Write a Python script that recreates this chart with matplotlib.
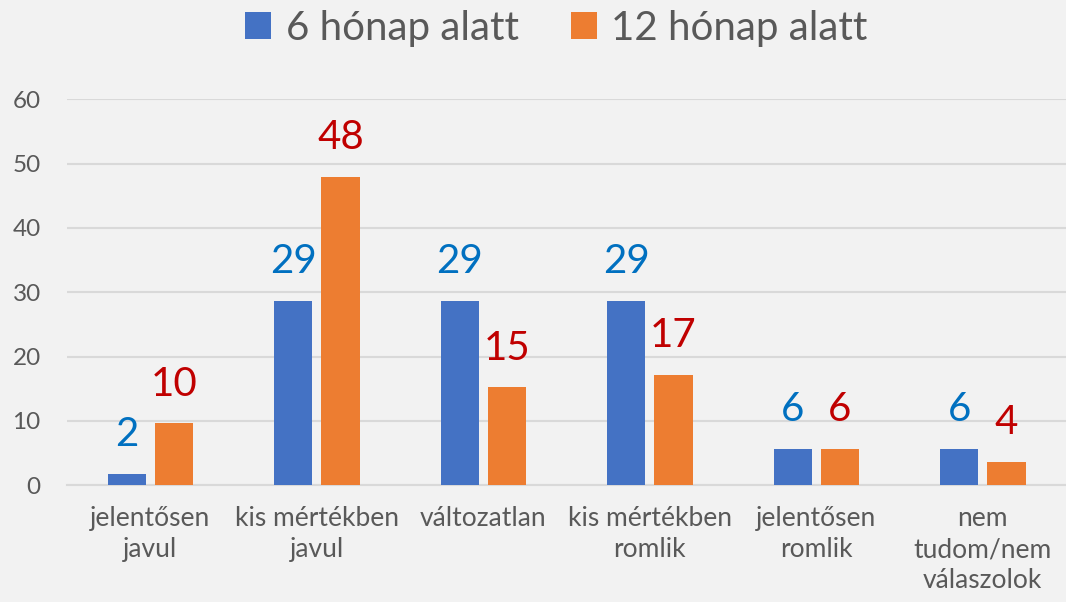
import numpy as np
import matplotlib.pyplot as plt

plt.rcParams['font.family'] = ['Lato', 'DejaVu Sans']

# data
categories = ['jelentősen\njavul', 'kis mértékben\njavul', 'változatlan',
              'kis mértékben\nromlik', 'jelentősen\nromlik', 'nem\ntudom/nem\nválaszolok']
series_names = ['6 hónap alatt', '12 hónap alatt']
six_months = [1.8, 28.7, 28.7, 28.7, 5.6, 5.6]
twelve_months = [9.6, 48.0, 15.2, 17.1, 5.6, 3.6]
yticks = [0, 10, 20, 30, 40, 50, 60]

bg = '#F2F2F2'
fig = plt.figure(figsize=(10.66, 6.02), dpi=100, facecolor=bg)
ax = fig.add_axes([0.063, 0.194, 0.937, 0.641], facecolor=bg)

x = np.arange(len(categories))
w = 0.23
off = 0.142
b1 = ax.bar(x - off, six_months, w, color='#4472C4', label=series_names[0], zorder=3)
b2 = ax.bar(x + off, twelve_months, w, color='#ED7D31', label=series_names[1], zorder=3)

# data labels above bars
for bars, vals, col in [(b1, six_months, '#0070C0'), (b2, twelve_months, '#C00000')]:
    for rect, v in zip(bars, vals):
        ax.annotate(f'{round(v):d}', (rect.get_x() + rect.get_width() / 2, v),
                    xytext=(0, 15), textcoords='offset points',
                    ha='center', va='bottom', fontsize=29, color=col)

ax.set_xlim(-0.5, len(categories) - 0.5)
ax.set_ylim(0, 60)
ax.set_yticks(yticks)
ax.set_xticks(x)
ax.set_xticklabels(categories, fontsize=19, color='#595959', linespacing=1.3)
ax.tick_params(axis='y', labelsize=17.5, labelcolor='#595959', length=0, pad=19)
ax.tick_params(axis='x', length=0, pad=15)
ax.grid(axis='y', color='#D9D9D9', linewidth=1.5, zorder=0)
for s in ['top', 'right', 'left']:
    ax.spines[s].set_visible(False)
ax.spines['bottom'].set_color('#D9D9D9')
ax.spines['bottom'].set_linewidth(1.5)

leg = fig.legend(loc='center', bbox_to_anchor=(0.522, 0.953), ncol=2, frameon=False,
                 fontsize=29, handlelength=0.65, handleheight=0.65, handletextpad=0.35,
                 columnspacing=1.3, borderaxespad=0)
for t in leg.get_texts():
    t.set_color('#595959')

fig.savefig('out.png', dpi=100, facecolor=bg)
